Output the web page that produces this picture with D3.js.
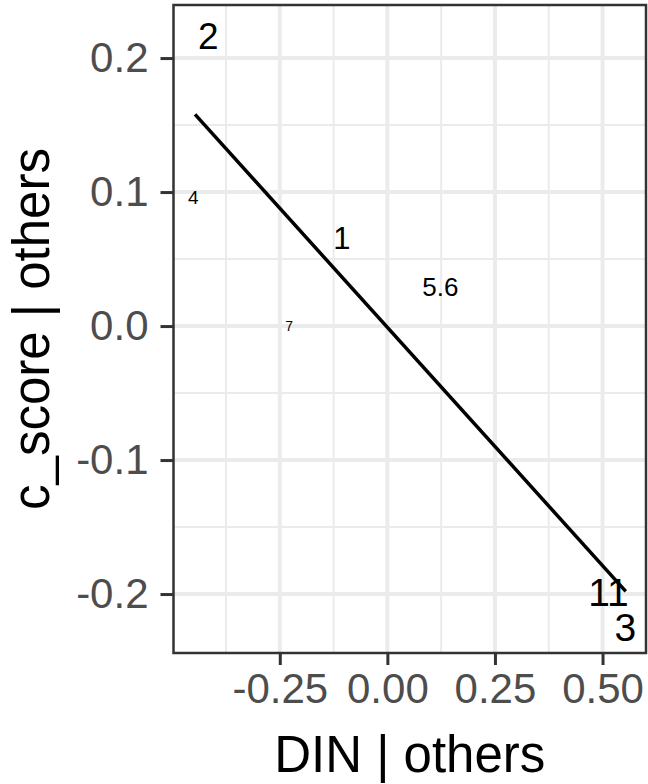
<!DOCTYPE html>
<html>
<head>
<meta charset="utf-8">
<script src="https://cdn.jsdelivr.net/npm/d3@7"></script>
<style>
  body { margin: 0; background: #fff; }
  svg { display: block; font-family: "Liberation Sans", Arial, sans-serif; }
</style>
</head>
<body>
<div id="chart"></div>
<script>
// Added-variable plot: c_score | others vs DIN | others
const pointLabels = ['2', '4', '1', '5.6', '7', '11', '3'];
const pointX = [-0.416, -0.451, -0.106, 0.123, -0.228, 0.514, 0.553];
const pointY = [0.216, 0.096, 0.065, 0.029, 0.000, -0.199, -0.225];
const pointSize = [37, 19, 31, 26, 14, 39, 39];

// fitted line endpoints
const fitX = [-0.447, 0.554];
const fitY = [0.158, -0.198];

const xTicks = [-0.25, 0, 0.25, 0.5];
const xMinor = [-0.375, -0.125, 0.125, 0.375];
const yTicks = [-0.2, -0.1, 0, 0.1, 0.2];
const yMinor = [-0.15, -0.05, 0.05, 0.15];

const width = 648;
const height = 784;
const margin = { top: 5, right: 2, bottom: 131, left: 173.5 };
const innerWidth = width - margin.left - margin.right;
const innerHeight = height - margin.top - margin.bottom;

const svg = d3.select('#chart')
  .append('svg')
  .attr('width', width)
  .attr('height', height);

const g = svg.append('g')
  .attr('transform', `translate(${margin.left},${margin.top})`);

// Scales
const x = d3.scaleLinear()
  .domain([-0.497, 0.601])
  .range([0, innerWidth]);

const y = d3.scaleLinear()
  .domain([-0.244, 0.2396])
  .range([innerHeight, 0]);

// Grid
const gridColor = '#ebebeb';

g.selectAll('.x-minor')
  .data(xMinor)
  .enter()
  .append('line')
  .attr('x1', d => x(d)).attr('x2', d => x(d))
  .attr('y1', 0).attr('y2', innerHeight)
  .attr('stroke', gridColor)
  .attr('stroke-width', 2);

g.selectAll('.y-minor')
  .data(yMinor)
  .enter()
  .append('line')
  .attr('x1', 0).attr('x2', innerWidth)
  .attr('y1', d => y(d)).attr('y2', d => y(d))
  .attr('stroke', gridColor)
  .attr('stroke-width', 2);

g.selectAll('.x-major')
  .data(xTicks)
  .enter()
  .append('line')
  .attr('x1', d => x(d)).attr('x2', d => x(d))
  .attr('y1', 0).attr('y2', innerHeight)
  .attr('stroke', gridColor)
  .attr('stroke-width', 4);

g.selectAll('.y-major')
  .data(yTicks)
  .enter()
  .append('line')
  .attr('x1', 0).attr('x2', innerWidth)
  .attr('y1', d => y(d)).attr('y2', d => y(d))
  .attr('stroke', gridColor)
  .attr('stroke-width', 4);

// Fitted line
g.append('path')
  .datum(fitX.map((d, i) => [d, fitY[i]]))
  .attr('fill', 'none')
  .attr('stroke', '#000')
  .attr('stroke-width', 3.5)
  .attr('d', d3.line().x(d => x(d[0])).y(d => y(d[1])));

// Point labels
g.selectAll('.pt-label')
  .data(pointLabels)
  .enter()
  .append('text')
  .attr('x', (d, i) => x(pointX[i]))
  .attr('y', (d, i) => y(pointY[i]))
  .attr('text-anchor', 'middle')
  .attr('dominant-baseline', 'central')
  .attr('font-size', (d, i) => pointSize[i] + 'px')
  .attr('fill', '#000')
  .text(d => d);

// Panel border
g.append('rect')
  .attr('width', innerWidth)
  .attr('height', innerHeight)
  .attr('fill', 'none')
  .attr('stroke', '#333')
  .attr('stroke-width', 2.5);

// X axis
const xAxis = g.append('g')
  .attr('transform', `translate(0,${innerHeight})`)
  .call(d3.axisBottom(x)
    .tickValues(xTicks)
    .tickFormat(d3.format('.2f'))
    .tickSize(12)
    .tickPadding(8));

xAxis.select('.domain').remove();
xAxis.selectAll('line').attr('stroke', '#333').attr('stroke-width', 3);
xAxis.selectAll('text')
  .attr('fill', '#4d4d4d')
  .attr('font-size', '42px')
  .attr('font-family', '"Liberation Sans", Arial, sans-serif')
  .text(d => d3.format('.2f')(d).replace('−', '-'));

// Y axis
const yAxis = g.append('g')
  .call(d3.axisLeft(y)
    .tickValues(yTicks)
    .tickFormat(d3.format('.1f'))
    .tickSize(13)
    .tickPadding(12));

yAxis.select('.domain').remove();
yAxis.selectAll('line').attr('stroke', '#333').attr('stroke-width', 3);
yAxis.selectAll('text')
  .attr('fill', '#4d4d4d')
  .attr('font-size', '42px')
  .attr('font-family', '"Liberation Sans", Arial, sans-serif')
  .text(d => d3.format('.1f')(d).replace('−', '-'));

// Axis titles
svg.append('text')
  .attr('x', margin.left + innerWidth / 2)
  .attr('y', 772)
  .attr('text-anchor', 'middle')
  .attr('font-size', '51px')
  .attr('fill', '#000')
  .text('DIN | others');

svg.append('text')
  .attr('transform', `translate(49,${margin.top + innerHeight / 2}) rotate(-90)`)
  .attr('text-anchor', 'middle')
  .attr('font-size', '51px')
  .attr('fill', '#000')
  .text('c_score | others');
</script>
</body>
</html>
